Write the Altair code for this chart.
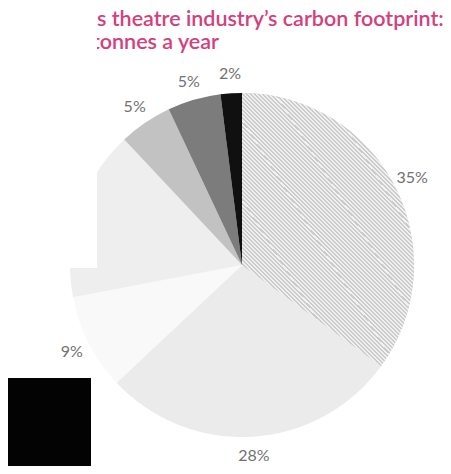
import altair as alt
import pandas as pd

# Slice values, clockwise from 12 o'clock
shares = [35, 28, 9, 16, 5, 5, 2]
labels = ["35%", "28%", "9%", "", "5%", "5%", "2%"]
slice_ids = ["s1", "s2", "s3", "s4", "s5", "s6", "s7"]
slice_colors = ["#d8d8d8", "#ebebeb", "#f9f9f9", "#eeeeee", "#c2c2c2", "#7c7c7c", "#101010"]

title_line1 = "s theatre industry’s carbon footprint:"
title_line2 = "tonnes a year"

df = pd.DataFrame({
    "slice": slice_ids,
    "share": shares,
    "label": labels,
    "order": list(range(len(shares))),
})

CX, CY, R = 234, 257, 172
color_scale = alt.Scale(domain=slice_ids, range=slice_colors)
theta_scale = alt.Scale(domain=[0, 100])

pie = alt.Chart(df).mark_arc(radius=R, x=CX, y=CY).encode(
    theta=alt.Theta("share:Q", stack=True, scale=theta_scale),
    order=alt.Order("order:Q"),
    color=alt.Color("slice:N", scale=color_scale, legend=None),
)

# fine diagonal hatching for the largest slice (style only)
n_stripes = 150
stops = []
for i in range(n_stripes):
    a = i / n_stripes
    b = (i + 0.5) / n_stripes
    c = (i + 1) / n_stripes
    stops += [
        alt.GradientStop(color="#cbcbcb", offset=a),
        alt.GradientStop(color="#cbcbcb", offset=b),
        alt.GradientStop(color="#f1f1f1", offset=b),
        alt.GradientStop(color="#f1f1f1", offset=c),
    ]
hatch = alt.LinearGradient(gradient="linear", stops=stops, x1=0, y1=1, x2=1, y2=-0.6)

hatched = alt.Chart(df).transform_window(
    end="sum(share)", sort=[alt.SortField("order")]
).transform_calculate(
    start="datum.end - datum.share"
).transform_filter(
    alt.datum.slice == "s1"
).mark_arc(radius=R, x=CX, y=CY, fill=hatch).encode(
    theta=alt.Theta("start:Q", scale=theta_scale),
    theta2="end:Q",
)

text_labels = alt.Chart(df).mark_text(
    radius=191, x=CX, y=CY, font="Lato", fontSize=16, color="#727272"
).encode(
    theta=alt.Theta("share:Q", stack=True, scale=theta_scale),
    order=alt.Order("order:Q"),
    text="label:N",
)

one = pd.DataFrame({"k": [0]})
tfont = dict(font="Lato", fontSize=21.5, fontWeight=600, color="#d4407c", baseline="alphabetic")

t1 = alt.Chart(one).mark_text(align="left", **tfont).encode(
    x=alt.value(89), y=alt.value(18), text=alt.value(title_line1))
t2 = alt.Chart(one).mark_text(align="left", **tfont).encode(
    x=alt.value(84), y=alt.value(41), text=alt.value(title_line2))

white_box = alt.Chart(one).mark_rect(color="white").encode(
    x=alt.value(0), x2=alt.value(89), y=alt.value(2), y2=alt.value(260))
black_box = alt.Chart(one).mark_rect(color="#030303").encode(
    x=alt.value(0), x2=alt.value(83), y=alt.value(370), y2=alt.value(466))

chart = alt.layer(pie, hatched, text_labels, t1, t2, white_box, black_box).properties(
    width=435, height=458, padding=0, autosize=alt.AutoSizeParams(type="none")
).configure_view(stroke=None)

chart.save("out.html", embed_options={"renderer": "svg", "actions": False})
